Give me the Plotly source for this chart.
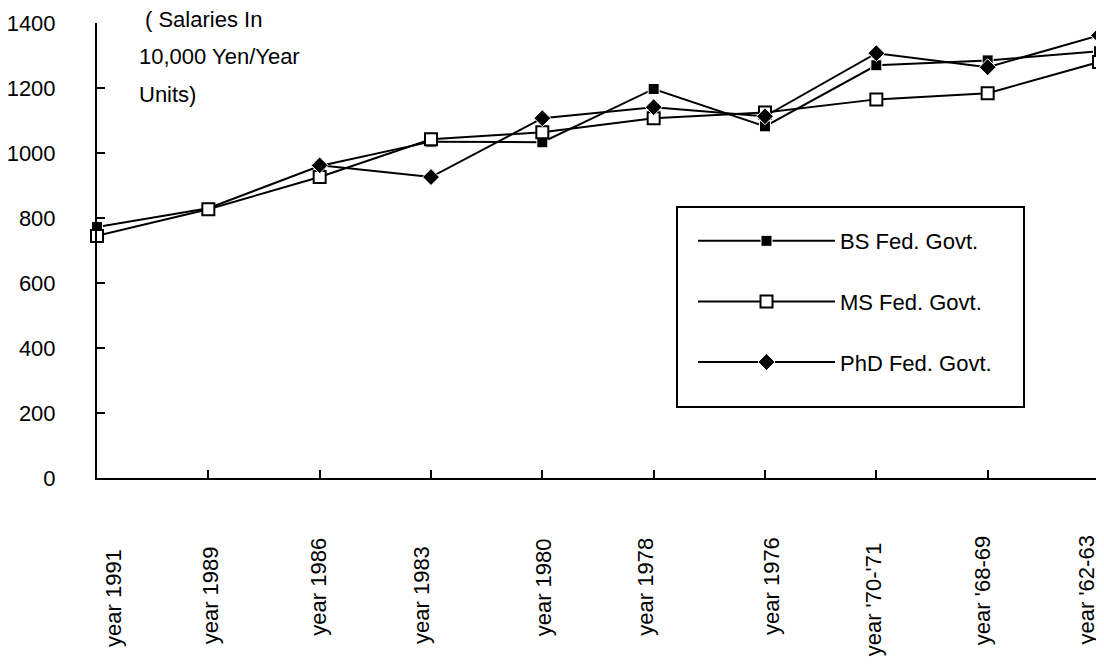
import plotly.graph_objects as go

categories = ["year 1991", "year 1989", "year 1986", "year 1983", "year 1980",
              "year 1978", "year 1976", "year '70-'71", "year '68-69", "year '62-63"]
bs_fed = [772, 830, 960, 1035, 1033, 1197, 1082, 1270, 1285, 1313]
ms_fed = [745, 827, 926, 1042, 1064, 1107, 1125, 1165, 1184, 1280]
phd_fed = [None, None, 962, 926, 1107, 1141, 1113, 1307, 1264, 1362]
series_names = ["BS Fed. Govt.", "MS Fed. Govt.", "PhD Fed. Govt."]
y_ticks = [0, 200, 400, 600, 800, 1000, 1200, 1400]
unit_lines = ["( Salaries In", "10,000 Yen/Year", "Units)"]

# pixel nudges of the rotated category labels (style only)
label_dx = [16, 2, -2, -10, 1, -9, 6, -3, -5, -13]
label_dy = [-9, -6, 2, -6, 2, 2, 3, -2, 4, 4]

FONT = "Liberation Sans, Arial, sans-serif"
FS = 22

W, H = 1096, 657
L, R, T, B = 89, 5, 15, 187
PW, PH = W - L - R, H - T - B


def px_x(px):  # page pixel -> paper x
    return (px - 8 - L) / PW


def px_y(py):  # page pixel -> paper y
    return (H - B - (py - 8)) / PH


fig = go.Figure()
fig.add_trace(go.Scatter(
    x=categories, y=bs_fed, name=series_names[0], mode="lines+markers",
    line=dict(color="black", width=2), legendgroup="a",
    marker=dict(symbol="square", size=11, color="black", line=dict(color="white", width=1)),
    cliponaxis=False))
fig.add_trace(go.Scatter(
    x=categories, y=ms_fed, name=series_names[1], mode="lines+markers",
    line=dict(color="black", width=2), legendgroup="b",
    marker=dict(symbol="square", size=12, color="white", line=dict(color="black", width=2)),
    cliponaxis=False))
fig.add_trace(go.Scatter(
    x=categories, y=phd_fed, name=series_names[2], mode="lines+markers",
    line=dict(color="black", width=2), legendgroup="c", connectgaps=False,
    marker=dict(symbol="diamond", size=13, color="black", line=dict(color="white", width=1)),
    cliponaxis=False))

# legend frame
fig.add_shape(type="rect", xref="paper", yref="paper",
              x0=px_x(677), x1=px_x(1024), y0=px_y(407), y1=px_y(207),
              line=dict(color="black", width=2), fillcolor="rgba(0,0,0,0)")

unit_dx = [6, 0, 0]
for i, t in enumerate(unit_lines):
    fig.add_annotation(text=t, xref="paper", yref="paper",
                       x=px_x(137), y=px_y(19.5 + i * 37.5), xshift=unit_dx[i],
                       xanchor="left", yanchor="middle", showarrow=False,
                       font=dict(family=FONT, size=FS, color="black"))

for i, c in enumerate(categories):
    fig.add_annotation(text=c, x=c, xref="x", yref="paper", y=0,
                       xanchor="center", yanchor="top", textangle=-90,
                       xshift=label_dx[i], yshift=-60 + label_dy[i], showarrow=False,
                       font=dict(family=FONT, size=FS, color="black"))

fig.update_layout(
    width=W, height=H,
    margin=dict(l=L, r=R, t=T, b=B, autoexpand=False),
    paper_bgcolor="white", plot_bgcolor="white",
    font=dict(family=FONT, size=FS, color="black"),
    showlegend=True,
    legend=dict(x=px_x(693), y=px_y(220), xanchor="left", yanchor="top",
                bgcolor="rgba(0,0,0,0)", borderwidth=0, itemwidth=137,
                tracegroupgap=29, font=dict(family=FONT, size=FS, color="black")),
    xaxis=dict(type="category", range=[0, 9], showline=True, linecolor="black", linewidth=2,
               ticks="inside", ticklen=8, tickwidth=2, tickcolor="black", automargin=False,
               showticklabels=False, showgrid=False, zeroline=False),
    yaxis=dict(range=[0, 1400], tickvals=y_ticks, showline=True, linecolor="black", linewidth=2,
               ticks="inside", ticklen=8, tickwidth=2, tickcolor="black", automargin=False,
               showgrid=False, zeroline=False, ticklabelstandoff=35,
               tickfont=dict(family=FONT, size=FS, color="black")),
)

fig.write_html("out.html")
